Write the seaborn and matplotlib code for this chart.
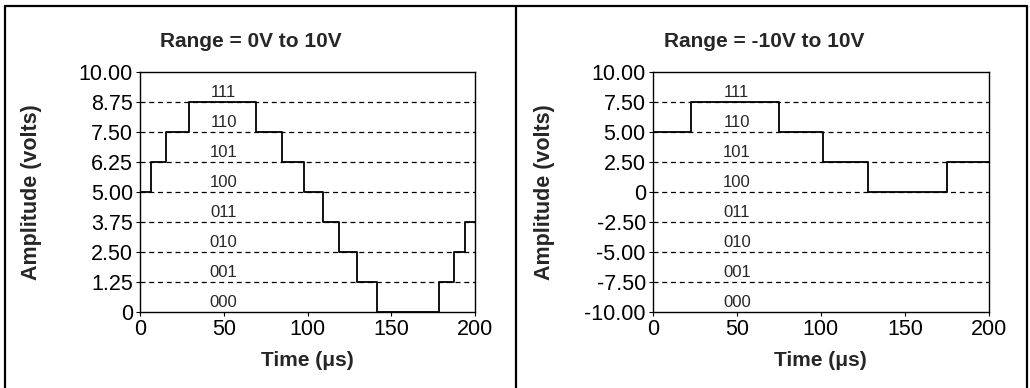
import seaborn as sns
import matplotlib.pyplot as plt
import pandas as pd
from matplotlib.lines import Line2D

# Step waveform data (time in us, amplitude in volts)
t_left = [0, 6.5, 15.5, 29.5, 69.3, 85, 98, 109.5, 119, 129.3, 141.3, 178.7, 187.5, 194, 200]
v_left = [5.00, 6.25, 7.50, 8.75, 7.50, 6.25, 5.00, 3.75, 2.50, 1.25, 0, 1.25, 2.50, 3.75, 3.75]

t_right = [0, 22.8, 75.1, 101, 128.2, 175, 200]
v_right = [5.00, 7.50, 5.00, 2.50, 0, 2.50, 2.50]

ticks_left = [0, 1.25, 2.50, 3.75, 5.00, 6.25, 7.50, 8.75, 10.00]
ticks_right = [-10.00, -7.50, -5.00, -2.50, 0, 2.50, 5.00, 7.50, 10.00]
codes = ['000', '001', '010', '011', '100', '101', '110', '111']
x_ticks = [0, 50, 100, 150, 200]

sns.set_style('white')
plt.rcParams['font.family'] = ['Liberation Sans', 'DejaVu Sans']

fig = plt.figure(figsize=(10.3, 3.88), dpi=100)
ax1 = fig.add_axes([140 / 1030, 1 - 311.7 / 388, 335 / 1030, 240 / 388])
ax2 = fig.add_axes([652.7 / 1030, 1 - 311.7 / 388, 336.3 / 1030, 240 / 388])


def fmt(v):
    return '0' if v == 0 else '%.2f' % v


def draw(ax, t, v, ticks, title, title_x):
    df = pd.DataFrame({'t': t, 'v': v})
    sns.lineplot(data=df, x='t', y='v', drawstyle='steps-post', color='black',
                 linewidth=1.3, ax=ax)
    lo, hi = ticks[0], ticks[-1]
    step = ticks[1] - ticks[0]
    for y in ticks[1:-1]:
        ax.axhline(y, color='black', linestyle=(0, (4, 3)), linewidth=0.9, zorder=1)
    for i, c in enumerate(codes):
        ax.text(50, ticks[i] + step * 0.06, c, ha='center', va='bottom', fontsize=12)
    ax.set_xlim(0, 200)
    ax.set_ylim(lo, hi)
    ax.set_xticks(x_ticks)
    ax.set_xticklabels([str(x) for x in x_ticks])
    ax.set_yticks(ticks)
    ax.set_yticklabels([fmt(y) for y in ticks])
    ax.tick_params(axis='both', labelsize=15.5, length=3, width=0.8, pad=2,
                   direction='out', left=True, bottom=True, colors='black')
    ax.set_xlabel('Time (\u03bcs)', fontsize=15, fontweight='bold', labelpad=8)
    ax.set_ylabel('Amplitude (volts)', fontsize=15.5, fontweight='bold')
    for s in ax.spines.values():
        s.set_color('black')
        s.set_linewidth(1.0)
    fig.text(title_x, 1 - 41.7 / 388, title, ha='center', va='center',
             fontsize=15, fontweight='bold')


draw(ax1, t_left, v_left, ticks_left, 'Range = 0V to 10V', 250.5 / 1030)
draw(ax2, t_right, v_right, ticks_right, 'Range = -10V to 10V', 764 / 1030)
ax1.yaxis.set_label_coords(-(140 - 41.7) / 335, 0.5)
ax2.yaxis.set_label_coords(-(652.7 - 555) / 336.3, 0.5)

# panel borders (open at the bottom)
W, H = 1030, 388
for xs, ys in [([4.5, 4.5], [0, 382.5]), ([4.5, 1027], [382.5, 382.5]),
               ([516, 516], [0, 382.5]), ([1027, 1027], [0, 382.5])]:
    fig.add_artist(Line2D([x / W for x in xs], [y / H for y in ys], color='black',
                          linewidth=1.6, transform=fig.transFigure))

fig.savefig('out.png', dpi=100)
